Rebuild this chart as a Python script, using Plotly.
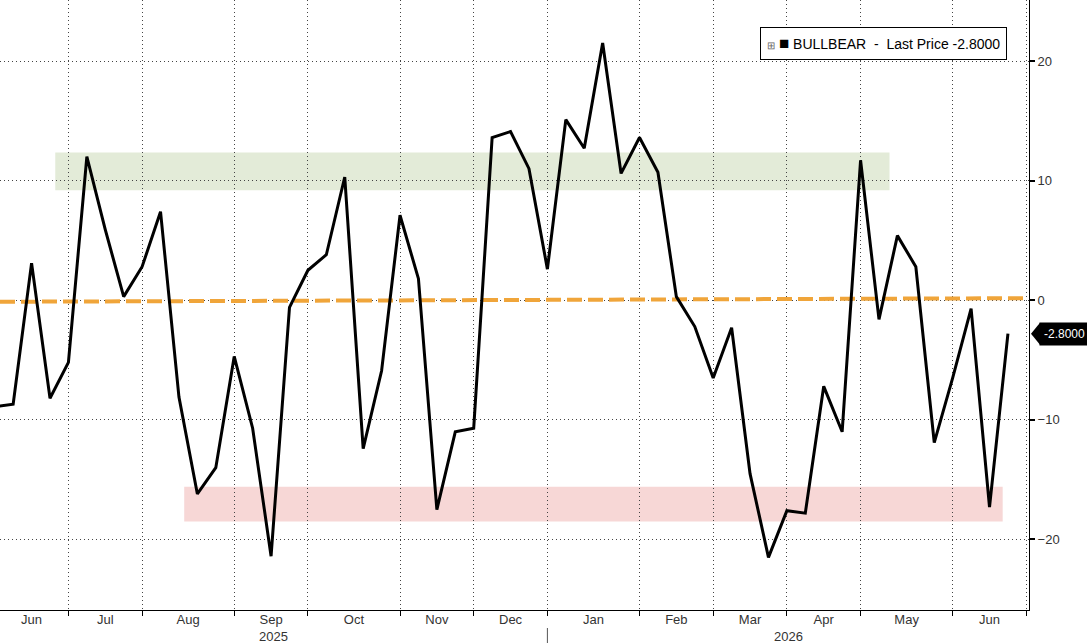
import pandas as pd
import plotly.graph_objects as go

# ---- data ----
dates = pd.date_range("2025-06-06", periods=56, freq="7D")
bullbear = [
    -8.9, -8.7, 3.1, -8.2,                 # Jun 2025
    -5.2, 12.0, 5.9, 0.3,                  # Jul
    2.8, 7.4, -8.1, -16.2, -14.0,          # Aug
    -4.7, -10.7, -21.4, -0.6,              # Sep
    2.5, 3.8, 10.3, -12.4, -5.9,           # Oct
    7.1, 1.8, -17.5, -11.0,                # Nov
    -10.7, 13.6, 14.1, 11.0,               # Dec
    2.6, 15.1, 12.7, 21.5, 10.6,           # Jan 2026
    13.6, 10.7, 0.3, -2.2,                 # Feb
    -6.5, -2.3, -14.5, -21.5,              # Mar
    -17.6, -17.8, -7.2, -11.0,             # Apr
    11.7, -1.6, 5.4, 2.8, -11.9,           # May
    -6.5, -0.7, -17.3, -2.8,               # Jun
]
trend_values = [-0.13, 0.17]
x_range = ["2025-06-08", "2026-07-04"]
y_range = [-25.9, 25.1]
y_ticks = [-20, -10, 0, 10, 20]
green_band = [9.2, 12.35]
green_span = ["2025-06-29", "2026-05-12"]
red_band = [-18.5, -15.6]
red_span = ["2025-08-17", "2026-06-24"]
series_name = "BULLBEAR&nbsp; -&nbsp; Last Price&nbsp;"
last_value = bullbear[-1]

FONT = "Liberation Sans"
W, H = 1087, 643
ML, MR, MT, MB = 0, 58, 0, 33
PW, PH = W - ML - MR, H - MT - MB

# month tick positions: first data point of each month
s = pd.Series(dates)
firsts = s.groupby([s.dt.year, s.dt.month]).first().tolist()
firsts.append(dates[-1] + pd.Timedelta(days=7))
mids, mlabels = [], []
for a, b in zip(firsts[:-1], firsts[1:]):
    mids.append(a + (b - a) / 2)
    mlabels.append(a.strftime("%b"))
year_start = [d for d in firsts if d.month == 1][0]
x0 = pd.Timestamp(x_range[0]); x1 = pd.Timestamp(x_range[1])

fig = go.Figure()
fig.add_trace(go.Scatter(x=x_range, y=trend_values, mode="lines",
                         line=dict(color="#F0A53A", width=4, dash="15px,6px"),
                         showlegend=False, hoverinfo="skip"))
fig.add_trace(go.Scatter(x=dates, y=bullbear, mode="lines",
                         line=dict(color="black", width=3), showlegend=False))
# dummy trace so xaxis2 is shown
fig.add_trace(go.Scatter(x=[dates[0]], y=[None], xaxis="x2", showlegend=False))

# bands
fig.add_shape(type="rect", xref="x", yref="y", x0=green_span[0], x1=green_span[1],
              y0=green_band[0], y1=green_band[1], fillcolor="#E3EBD8",
              line=dict(width=0), layer="below")
fig.add_shape(type="rect", xref="x", yref="y", x0=red_span[0], x1=red_span[1],
              y0=red_band[0], y1=red_band[1], fillcolor="#F7D7D6",
              line=dict(width=0), layer="below")

# year separator
fig.add_shape(type="line", xref="x", yref="paper", x0=year_start, x1=year_start,
              y0=-18 / PH, y1=-36 / PH, line=dict(color="#555", width=1))

# year labels
for txt, a, b in [("2025", x0, year_start), ("2026", year_start, x1)]:
    fig.add_annotation(x=a + (b - a) / 2, xref="x", y=-27 / PH, yref="paper",
                       text=txt, showarrow=False, yanchor="middle",
                       font=dict(family=FONT, size=13, color="#333"))

# legend box
fig.add_annotation(
    x=1007 / PW, xref="paper", y=1 - 43 / PH, yref="paper",
    xanchor="right", yanchor="middle", showarrow=False,
    text=("<span style='font-size:10px;color:#666'>⊞</span> "
          "<span style='font-size:17px'>■</span> "
          f"{series_name}{last_value:.4f}"),
    font=dict(family=FONT, size=14, color="black"),
    bgcolor="white", bordercolor="black", borderwidth=1, borderpad=6,
)

# last price tag
fig.add_shape(type="path", xref="paper", yref="y", xsizemode="pixel",
              ysizemode="pixel", xanchor=1, yanchor=last_value,
              path="M2,0 L11,11 L11,-11 Z", fillcolor="black",
              line=dict(width=0))
fig.add_annotation(x=1, xref="paper", y=last_value, yref="y", xanchor="left",
                   xshift=10, showarrow=False, text=f"{last_value:.4f}",
                   font=dict(family=FONT, size=12, color="white"),
                   bgcolor="black", borderpad=4)

grid = dict(showgrid=True, gridcolor="#444", gridwidth=1, griddash="1px,3px")
fig.update_layout(
    width=W, height=H, margin=dict(l=ML, r=MR, t=MT, b=MB),
    paper_bgcolor="white", plot_bgcolor="white",
    font=dict(family=FONT, size=13, color="#333"),
    xaxis=dict(type="date", range=x_range, tickvals=firsts,
               ticktext=[""] * len(firsts), ticks="outside", ticklen=5,
               tickcolor="black", showline=True, linecolor="black",
               linewidth=1, zeroline=False, automargin=False, **grid),
    xaxis2=dict(type="date", range=x_range, overlaying="x", anchor="y",
                side="bottom", tickvals=mids, ticktext=mlabels, ticks="",
                showgrid=False, showline=False, zeroline=False,
                automargin=False, tickfont=dict(family=FONT, size=13, color="#333")),
    yaxis=dict(range=y_range, side="right", tickvals=y_ticks,
               ticks="outside", ticklen=5, tickwidth=2, tickcolor="black",
               showline=True, linecolor="black", linewidth=1,
               zeroline=False, automargin=False,
               tickfont=dict(family=FONT, size=13, color="#333"), **grid),
)
fig.write_html("out.html")
